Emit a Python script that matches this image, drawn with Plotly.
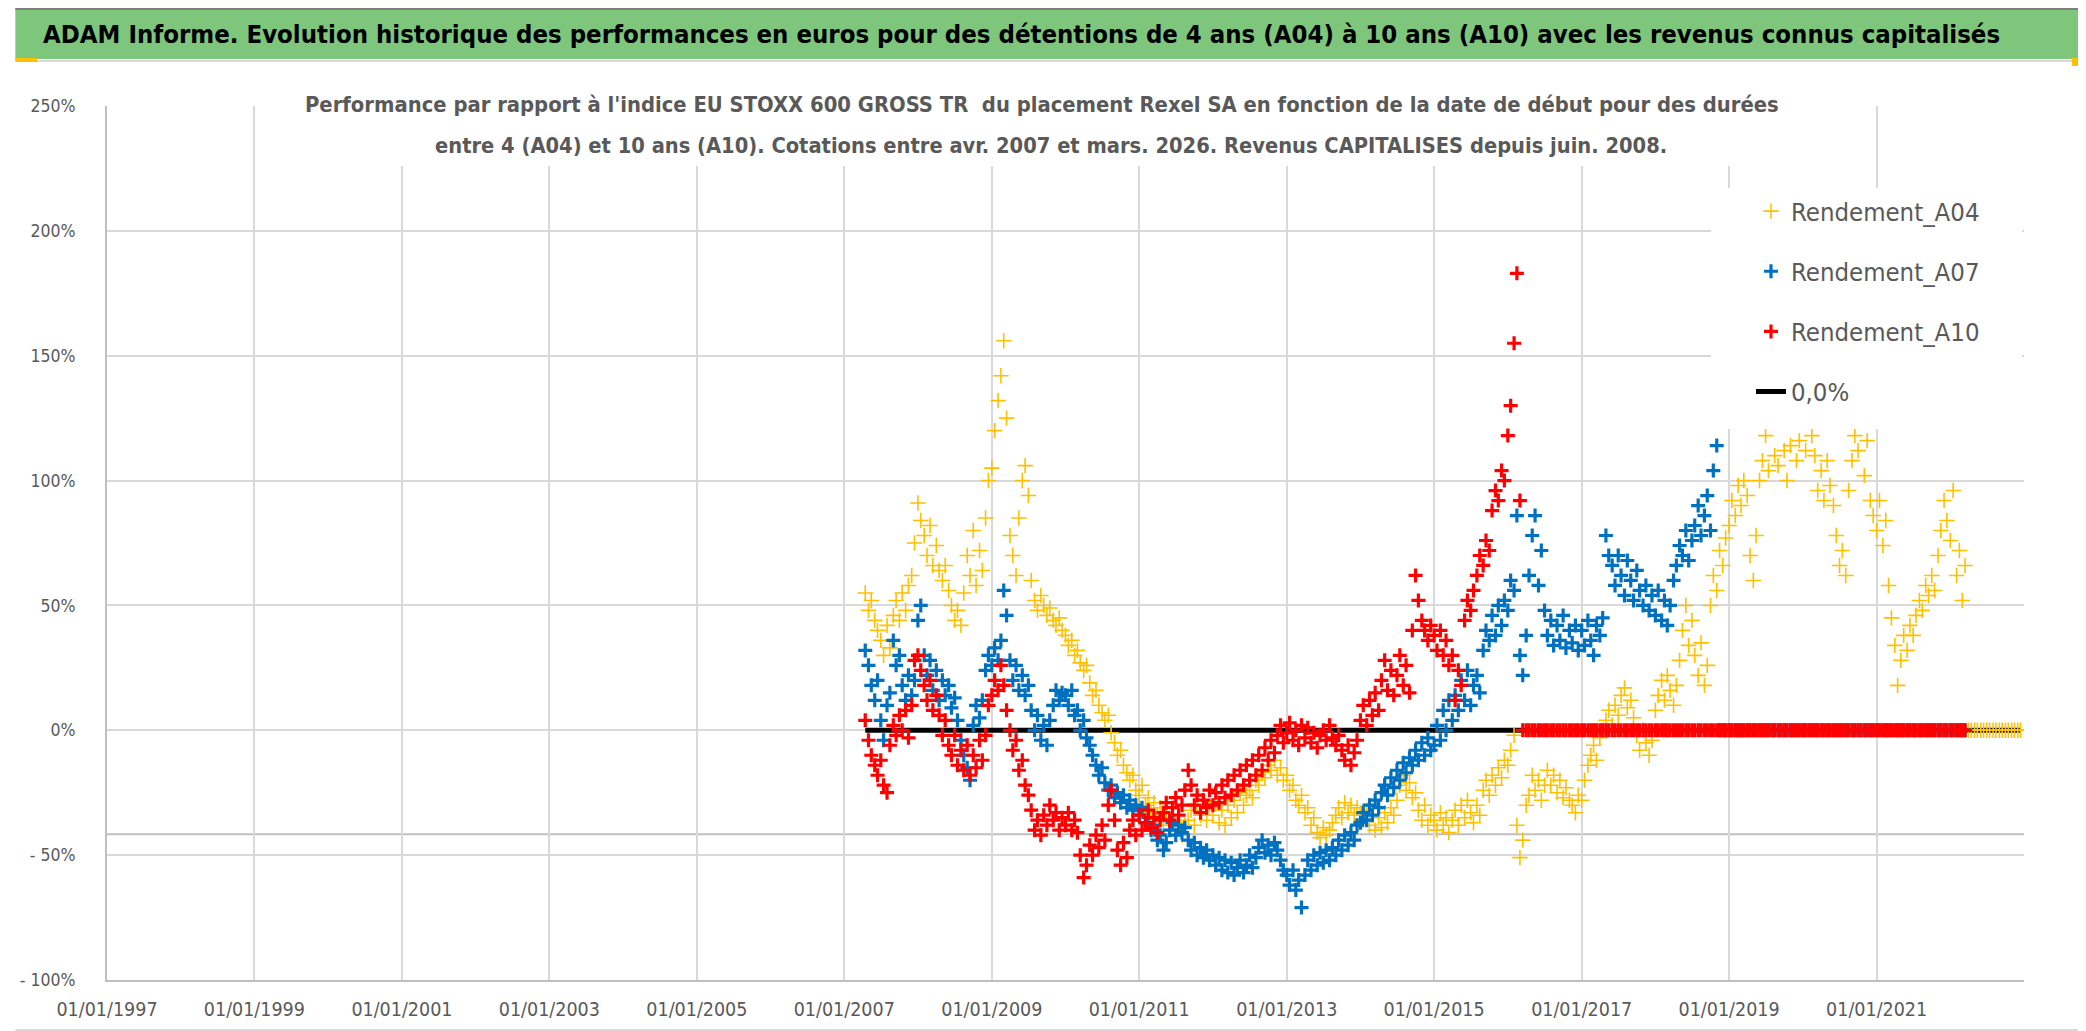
import pandas as pd
import plotly.graph_objects as go

# ---------------- DATA ----------------
START_DATE = "2007-04-15"      # first start date (semi-monthly sampling)
END_DATE = "2022-12-15"

# Rendement_A04 (%), semi-monthly values
A04_2007 = [55, 48, 52, 44, 40, 36, 30, 42, 33, 46, 52, 44, 55, 48, 58, 62, 75]
A04_2008 = [91, 84, 78, 70, 82, 66, 74, 64, 60, 66, 56, 50, 44, 48, 42, 55, 70, 62, 80, 58, 72, 64, 85, 100]
A04_2009 = [105, 120, 132, 142, 156, 125, 78, 70, 62, 85, 100, 106, 94, 60, 52, 48, 54, 50, 46, 49, 44, 42, 45, 40]
A04_2010 = [38, 34, 36, 30, 32, 27, 24, 26, 19, 14, 16, 10, 7, 4, 6, -1, -5, -10, -8, -14, -17, -20, -18, -24]
A04_2011 = [-26, -22, -30, -27, -33, -29, -34, -31, -36, -33, -38, -35, -40, -37, -42, -38, -36, -32, -38, -30, -34, -28, -36, -31]
A04_2012 = [-34, -29, -37, -32, -38, -30, -35, -28, -33, -25, -30, -26, -24, -27, -20, -22, -17, -19, -14, -16, -12, -18, -15, -20]
A04_2013 = [-18, -24, -22, -28, -30, -26, -33, -31, -38, -35, -41, -43, -39, -42, -40, -37, -34, -31, -35, -29, -33, -30, -34, -31]
A04_2014 = [-33, -36, -32, -38, -34, -40, -35, -39, -33, -37, -31, -34, -28, -22, -18, -24, -21, -27, -25, -32, -36, -30, -38, -34]
A04_2015 = [-36, -40, -33, -38, -35, -41, -36, -32, -38, -30, -35, -28, -33, -37, -30, -34, -24, -20, -26, -18, -22, -15, -19, -12]
A04_2016 = [-14, -8, -2, -38, -51, -44, -30, -26, -18, -24, -20, -28, -22, -16, -22, -18, -25, -20, -27, -23, -28, -30, -33, -26]
A04_2017 = [-28, -20, -14, -10, -6, -12, -3, 0, 4, 8, 2, 10, 6, 14, 17, 9, 12, 5, -2, -8, 0, -5, -10, -4]
A04_2018 = [8, 14, 20, 12, 22, 16, 10, 18, 28, 40, 50, 34, 44, 30, 22, 35, 18, 26, 50, 62, 56, 72, 66, 77]
A04_2019 = [82, 92, 86, 98, 90, 100, 94, 70, 60, 78, 100, 108, 118, 104, 124, 110, 106, 126, 112, 100, 114, 128, 108, 116]
A04_2020 = [124, 112, 126, 118, 110, 96, 104, 92, 108, 98, 90, 78, 66, 72, 62, 96, 108, 118, 112, 124, 102, 116, 92, 86]
A04_2021 = [80, 92, 74, 84, 58, 45, 34, 18, 28, 38, 32, 42, 38, 46, 52, 48, 58, 54, 62, 56, 70, 80, 92, 84]
A04_2022 = [76, 96, 62, 72, 52, 66] + [0] * 18

# Rendement_A07 (%)
A07_2007 = [32, 26, 18, 12, 20, 4, -4, 10, 15, 36, 26, 30, 18, 12, 22, 14, 20]
A07_2008 = [44, 50, 30, 22, 28, 16, 24, 12, 20, 14, 18, 9, 13, 4, -4, -10, -15, -20, 2, 10, 5, 12, 24, 30]
A07_2009 = [26, 33, 28, 36, 56, 46, 28, 20, 26, 16, 22, 14, 18, 8, 0, 6, -4, 2, -6, 4, 10, 16, 12, 15]
A07_2010 = [14, 10, 16, 6, 8, 0, 4, -3, -6, -10, -14, -18, -15, -21, -24, -22, -27, -25, -29, -26, -31, -28, -32, -30]
A07_2011 = [-34, -31, -37, -35, -40, -38, -44, -42, -48, -45, -40, -37, -42, -38, -41, -39, -44, -48, -45, -50, -47, -51, -48, -52]
A07_2012 = [-50, -54, -51, -56, -52, -57, -53, -58, -55, -52, -57, -54, -50, -55, -51, -47, -44, -49, -46, -50, -45, -48, -52, -56]
A07_2013 = [-58, -62, -56, -64, -60, -71, -58, -52, -56, -50, -54, -49, -53, -48, -52, -47, -50, -44, -48, -42, -46, -41, -44, -38]
A07_2014 = [-37, -33, -36, -30, -34, -28, -31, -25, -22, -26, -19, -23, -16, -20, -13, -17, -11, -14, -8, -12, -5, -10, -3, -8]
A07_2015 = [-6, 2, -4, 8, 0, 12, 4, 14, 8, 20, 12, 24, 10, 18, 22, 15, 32, 40, 36, 46, 38, 50, 42, 52]
A07_2016 = [48, 60, 56, 86, 30, 22, 38, 62, 78, 86, 58, 72, 48, 38, 44, 34, 42, 36, 46, 33, 40, 35, 42, 32]
A07_2017 = [40, 34, 44, 36, 30, 42, 38, 45, 78, 70, 66, 58, 70, 62, 54, 68, 60, 52, 64, 56, 50, 58, 48, 54]
A07_2018 = [46, 56, 44, 52, 42, 50, 60, 66, 74, 70, 80, 68, 76, 82, 90, 78, 86, 94, 80, 104, 114]
A07_TAIL = [0] * 81

# Rendement_A10 (%)
A10_2007 = [4, -4, -10, -14, -18, -12, -22, -25, -6, 2, -2, 6, 0, 8, -3, 10, 28]
A10_2008 = [30, 24, 18, 12, 20, 8, 14, 6, -2, 4, -6, -10, -2, -14, -8, -16, -6, -18, -10, -15, -4, -12, -2, 10]
A10_2009 = [14, 20, 16, 26, 18, 8, 0, -8, -4, -16, -12, -22, -26, -32, -40, -36, -42, -34, -38, -30, -36, -33, -40, -35]
A10_2010 = [-38, -33, -40, -36, -41, -50, -59, -54, -46, -50, -42, -47, -38, -44, -30, -24, -36, -48, -54, -45, -51, -40, -36, -42]
A10_2011 = [-34, -40, -37, -32, -39, -35, -41, -36, -33, -29, -36, -31, -27, -34, -30, -24, -16, -22, -30, -26, -33, -28, -31, -24]
A10_2012 = [-30, -25, -29, -22, -27, -20, -26, -18, -24, -16, -22, -14, -20, -12, -18, -10, -16, -7, -12, -4, -9, -2, 2, -5]
A10_2013 = [-1, 3, -4, 0, -6, 2, -3, 1, -5, -1, -7, -2, 0, -4, 2, -3, -6, -2, -8, -12, -6, -14, -9, -4]
A10_2014 = [4, 10, 2, 12, 6, 15, 8, 20, 28, 16, 24, 14, 22, 30, 18, 26, 15, 40, 62, 52, 44, 40, 36, 42]
A10_2015 = [38, 32, 40, 30, 36, 26, 30, 12, 24, 18, 44, 52, 48, 56, 62, 70, 66, 76, 72, 88, 96, 92, 104, 100]
A10_2016 = [118, 130, 155, 183, 92]
A10_TAIL = [0] * 145

ZERO_LEVEL = [0, 0]            # "0,0%" reference line
LOWER_REF_LEVEL = -41.6        # grey horizontal reference line (%)

SERIES_NAMES = ["Rendement_A04", "Rendement_A07", "Rendement_A10", "0,0%"]
Y_TICKS = [-100, -50, 0, 50, 100, 150, 200, 250]
Y_TICK_LABELS = ["- 100%", "- 50%", "0%", "50%", "100%", "150%", "200%", "250%"]
X_TICK_LABELS = ["01/01/1997", "01/01/1999", "01/01/2001", "01/01/2003", "01/01/2005",
                 "01/01/2007", "01/01/2009", "01/01/2011", "01/01/2013", "01/01/2015",
                 "01/01/2017", "01/01/2019", "01/01/2021"]
X_RANGE = ["1997-01-01", "2023-01-01"]

TITLE = ("ADAM Informe. Evolution historique des performances en euros pour des détentions "
         "de 4 ans (A04) à 10 ans (A10) avec les revenus connus capitalisés")
SUB1 = ("Performance par rapport à l'indice EU STOXX 600 GROSS TR  du placement Rexel SA "
        "en fonction de la date de début pour des durées")
SUB2 = ("entre 4 (A04) et 10 ans (A10). Cotations entre avr. 2007 et mars. 2026. "
        "Revenus CAPITALISES depuis juin. 2008.")

# ---------------- BUILD ----------------
dates = pd.date_range(START_DATE, END_DATE, freq="SMS")

a04 = (A04_2007 + A04_2008 + A04_2009 + A04_2010 + A04_2011 + A04_2012 + A04_2013 +
       A04_2014 + A04_2015 + A04_2016 + A04_2017 + A04_2018 + A04_2019 + A04_2020 +
       A04_2021 + A04_2022)
a07 = (A07_2007 + A07_2008 + A07_2009 + A07_2010 + A07_2011 + A07_2012 + A07_2013 +
       A07_2014 + A07_2015 + A07_2016 + A07_2017 + A07_2018 + A07_TAIL)
a10 = (A10_2007 + A10_2008 + A10_2009 + A10_2010 + A10_2011 + A10_2012 + A10_2013 +
       A10_2014 + A10_2015 + A10_2016 + A10_TAIL)

x04 = dates[:len(a04)]
x07 = dates[:len(a07)]
x10 = dates[:len(a10)]

W, H = 2086, 1031
L, R, T, B = 92, 70, 98, 59
PW, PH = W - L - R, H - T - B


def fx(px):
    return (px - L) / PW


def fy(py):
    return (H - B - py) / PH


NARROW = "DejaVu Sans Condensed, DejaVu Sans, sans-serif"
GREY_TXT = "#595959"

fig = go.Figure()

fig.add_trace(go.Scatter(
    x=[dates[0], dates[-1]], y=ZERO_LEVEL, mode="lines", name=SERIES_NAMES[3],
    line=dict(color="black", width=5), legendrank=4, legendgroup="g4"))

fig.add_trace(go.Scatter(
    x=x04, y=a04, mode="markers", name=SERIES_NAMES[0], legendrank=1, legendgroup="g1",
    marker=dict(symbol="cross-thin", size=11, color="#FFC000",
                line=dict(color="#FFC000", width=1.6))))

fig.add_trace(go.Scatter(
    x=x07, y=a07, mode="markers", name=SERIES_NAMES[1], legendrank=2, legendgroup="g2",
    marker=dict(symbol="cross-thin", size=10, color="#0070C0",
                line=dict(color="#0070C0", width=3.2))))

fig.add_trace(go.Scatter(
    x=x10, y=a10, mode="markers", name=SERIES_NAMES[2], legendrank=3, legendgroup="g3",
    marker=dict(symbol="cross-thin", size=10, color="#FF0000",
                line=dict(color="#FF0000", width=3.2))))

shapes = [
    # green title band
    dict(type="rect", xref="paper", yref="paper", x0=fx(0), x1=fx(W), y0=fy(51), y1=fy(0),
         fillcolor="#7EC67C", line=dict(width=0), layer="above"),
    dict(type="line", xref="paper", yref="paper", x0=fx(0), x1=fx(W), y0=fy(1), y1=fy(1),
         line=dict(color="#7F7F7F", width=2), layer="above"),
    dict(type="line", xref="paper", yref="paper", x0=fx(0), x1=fx(2070), y0=fy(53), y1=fy(53),
         line=dict(color="#D9D9D9", width=2), layer="above"),
    # white box behind subtitle
    dict(type="rect", xref="paper", yref="paper", x0=fx(293), x1=fx(1776), y0=fy(158), y1=fy(70),
         fillcolor="white", line=dict(width=0), layer="above"),
    # white legend box
    dict(type="rect", xref="paper", yref="paper", x0=fx(1702), x1=fx(2014), y0=fy(421), y1=fy(180),
         fillcolor="white", line=dict(width=0), layer="above"),
    # grey reference line
    dict(type="line", xref="paper", yref="y", x0=0, x1=1, y0=LOWER_REF_LEVEL, y1=LOWER_REF_LEVEL,
         line=dict(color="#BFBFBF", width=2), layer="between"),
    # frame bits
    dict(type="line", xref="paper", yref="paper", x0=fx(2079), x1=fx(2079), y0=fy(1022), y1=fy(55),
         line=dict(color="#BFBFBF", width=2), layer="above"),
    dict(type="line", xref="paper", yref="paper", x0=fx(0), x1=fx(2070), y0=fy(1022), y1=fy(1022),
         line=dict(color="#D9D9D9", width=2), layer="above"),
    dict(type="line", xref="paper", yref="paper", x0=fx(0), x1=fx(W), y0=fy(1029), y1=fy(1029),
         line=dict(color="#A6A6A6", width=2), layer="above"),
    dict(type="rect", xref="paper", yref="paper", x0=fx(0), x1=fx(22), y0=fy(54), y1=fy(50),
         fillcolor="#FFC000", line=dict(width=0), layer="above"),
    dict(type="rect", xref="paper", yref="paper", x0=fx(0), x1=fx(22), y0=fy(1029), y1=fy(1023),
         fillcolor="#FFC000", line=dict(width=0), layer="above"),
    dict(type="rect", xref="paper", yref="paper", x0=fx(2064), x1=fx(2086), y0=fy(58), y1=fy(50),
         fillcolor="#FFC000", line=dict(width=0), layer="above"),
    dict(type="rect", xref="paper", yref="paper", x0=fx(2078), x1=fx(2086), y0=fy(1020), y1=fy(970),
         fillcolor="#FFC000", line=dict(width=0), layer="above"),
]

annotations = [
    dict(text="<b>" + TITLE + "</b>", xref="paper", yref="paper", x=fx(1010), y=fy(26),
         xanchor="center", yanchor="middle", showarrow=False,
         font=dict(family=NARROW, size=25.5, color="black")),
    dict(text="<b>" + SUB1 + "</b>", xref="paper", yref="paper", x=fx(1030), y=fy(97),
         xanchor="center", yanchor="middle", showarrow=False,
         font=dict(family=NARROW, size=21.8, color=GREY_TXT)),
    dict(text="<b>" + SUB2 + "</b>", xref="paper", yref="paper", x=fx(1039), y=fy(137),
         xanchor="center", yanchor="middle", showarrow=False,
         font=dict(family=NARROW, size=21.7, color=GREY_TXT)),
]

fig.update_layout(
    width=W, height=H,
    margin=dict(l=L, r=R, t=T, b=B, pad=0),
    paper_bgcolor="white", plot_bgcolor="white",
    shapes=shapes, annotations=annotations,
    showlegend=True,
    legend=dict(x=fx(1742), y=fy(180), xanchor="left", yanchor="top",
                bgcolor="rgba(0,0,0,0)", borderwidth=0, traceorder="grouped",
                tracegroupgap=24, font=dict(family=NARROW, size=25.5, color=GREY_TXT)),
    xaxis=dict(type="date", range=X_RANGE,
               tickvals=pd.to_datetime(X_TICK_LABELS, format="%d/%m/%Y"),
               ticktext=X_TICK_LABELS, showgrid=True, gridcolor="#D9D9D9", gridwidth=1.5,
               zeroline=False, showline=True, linecolor="#BFBFBF", linewidth=2,
               ticks="", ticklabelstandoff=11,
               tickfont=dict(family=NARROW, size=19.5, color=GREY_TXT)),
    yaxis=dict(range=[-100, 250], tickvals=Y_TICKS, ticktext=Y_TICK_LABELS,
               showgrid=True, gridcolor="#D9D9D9", gridwidth=1.5, zeroline=False,
               showline=True, linecolor="#BFBFBF", linewidth=2, ticks="",
               ticklabelstandoff=26,
               tickfont=dict(family=NARROW, size=17.5, color=GREY_TXT)),
)

fig.write_html("out.html")
